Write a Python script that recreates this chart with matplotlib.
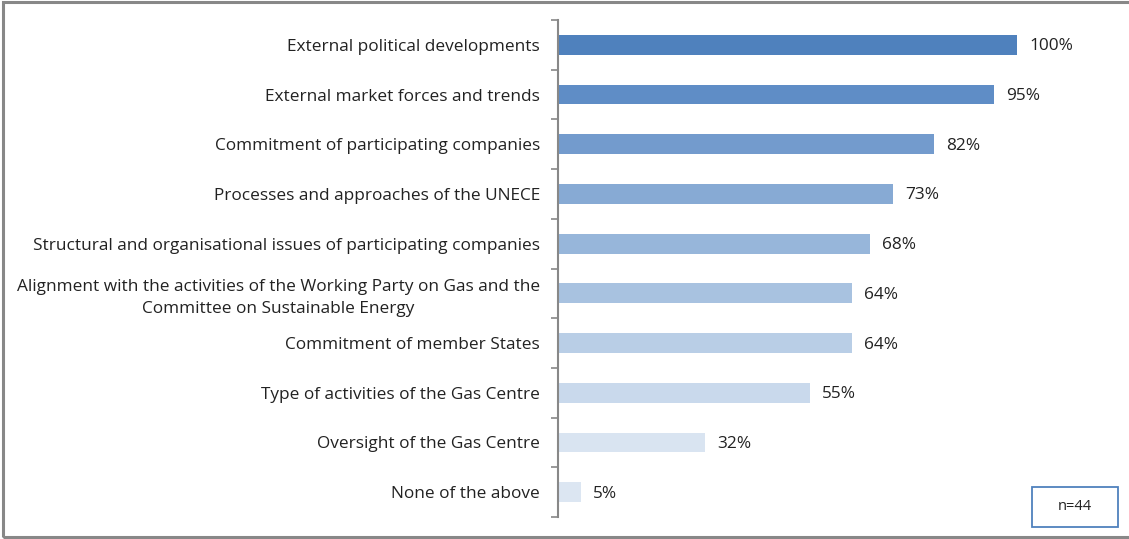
import matplotlib.pyplot as plt
from matplotlib.patches import Rectangle

# Data
factors = [
    "External political developments",
    "External market forces and trends",
    "Commitment of participating companies",
    "Processes and approaches of the UNECE",
    "Structural and organisational issues of participating companies",
    "Alignment with the activities of the Working Party on Gas and the\nCommittee on Sustainable Energy",
    "Commitment of member States",
    "Type of activities of the Gas Centre",
    "Oversight of the Gas Centre",
    "None of the above",
]
shares = [100, 95, 82, 73, 68, 64, 64, 55, 32, 5]
bar_colors = ["#4F81BD", "#5F8DC6", "#739BCD", "#87AAD4", "#97B6DA",
              "#A8C2E0", "#B9CEE6", "#C9D9EC", "#D9E4F1", "#DCE6F2"]

plt.rcParams['font.family'] = ['Open Sans', 'DejaVu Sans']
fs = 12.4

fig = plt.figure(figsize=(11.29, 5.39), dpi=100)
ax = fig.add_axes([558 / 1129, 22 / 539, (1017 - 558) / 1129, 497 / 539])

y = list(range(len(factors)))
ax.barh(y, shares, height=0.4, color=bar_colors)
ax.set_xlim(0, 100)
ax.set_ylim(len(factors) - 0.5, -0.5)

for yi, v in zip(y, shares):
    ax.text(v + 2.6, yi + 0.03, f"{v}%", va='center', ha='left', fontsize=fs,
            color='#222222', clip_on=False)

# category labels, ticks at the boundaries between categories
ax.set_yticks(y)
ax.set_yticklabels(factors, fontsize=fs, color='#222222')
ax.tick_params(axis='y', which='major', length=0, pad=13)
ax.set_yticks([i - 0.5 for i in range(len(factors) + 1)], minor=True)
ax.tick_params(axis='y', which='minor', length=5, width=1.2, color='#888888')
for lbl in ax.get_yticklabels():
    lbl.set_multialignment('center')
    lbl.set_linespacing(1.45)

ax.set_xticks([])
for s in ['top', 'right', 'bottom']:
    ax.spines[s].set_visible(False)
ax.spines['left'].set_color('#888888')
ax.spines['left'].set_linewidth(1.5)

# sample size box
fig.patches.append(Rectangle((1032 / 1129, 1 - 527 / 539), 86 / 1129, 40 / 539,
                             transform=fig.transFigure, facecolor='white',
                             edgecolor='#4F81BD', linewidth=1.3))
fig.text(1075 / 1129, 1 - 507 / 539, "n=44", ha='center', va='center', fontsize=10.5,
         color='#222222')

# outer frame
fig.patches.append(Rectangle((2.5 / 1129, 2 / 539), 1.2, 1 - 4 / 539, transform=fig.transFigure,
                             fill=False, edgecolor='#888888', linewidth=2.2))

fig.savefig('out.png', dpi=100)
